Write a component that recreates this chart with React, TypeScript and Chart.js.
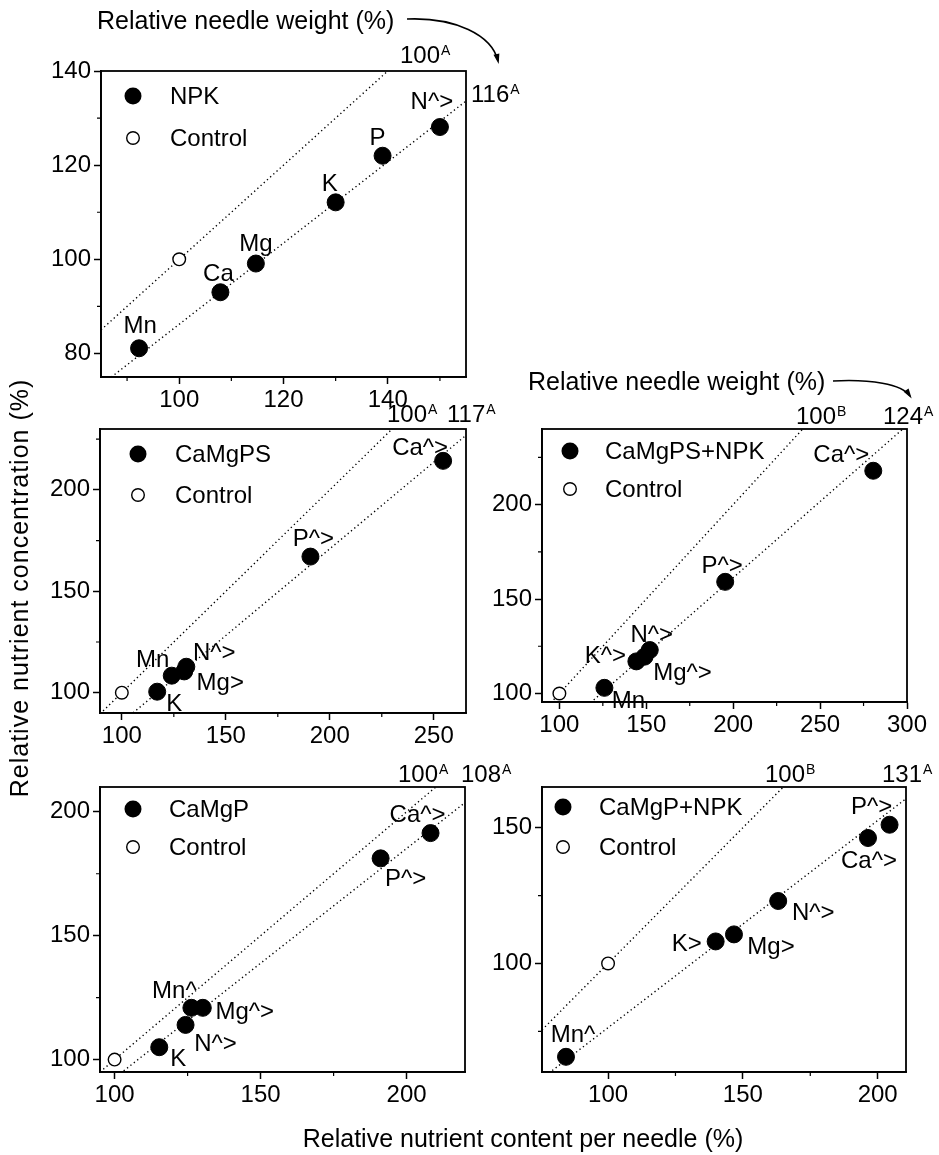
import React, { useEffect, useRef } from 'react';
import Chart from 'chart.js/auto';

const PAGE_W = 939;
const PAGE_H = 1155;
const FONT = '"Liberation Sans", Arial, Helvetica, sans-serif';

// ---------------- data ----------------
const controlX = [100];
const controlY = [100];

// NPK
const npkX = [92.3, 107.9, 114.7, 130, 139, 150];
const npkY = [81.1, 93, 99.1, 112.1, 122, 128.1];
const npkLabels = ['Mn', 'Ca', 'Mg', 'K', 'P', 'N^>'];
const npkWeights = [100, 116];
const npkWeightTags = ['A', 'A'];
const npkXTicks = [100, 120, 140];
const npkXMinor = [90, 110, 130, 150];
const npkYTicks = [80, 100, 120, 140];
const npkYMinor = [90, 110, 130];

// CaMgPS
const camgpsX = [117, 124, 130, 131, 190.7, 254.5];
const camgpsY = [100.5, 108.4, 110.5, 112.8, 167.1, 214.3];
const camgpsLabels = ['K', 'Mn', 'Mg>', 'N^>', 'P^>', 'Ca^>'];
const camgpsWeights = [100, 117];
const camgpsWeightTags = ['A', 'A'];
const camgpsXTicks = [100, 150, 200, 250];
const camgpsXMinor = [125, 175, 225];
const camgpsYTicks = [100, 150, 200];
const camgpsYMinor = [125, 175, 225];

// CaMgPS+NPK
const camgpsNpkX = [125.9, 144.3, 149, 152, 195.4, 280.6];
const camgpsNpkY = [103, 117, 119.5, 123, 159.1, 217.9];
const camgpsNpkLabels = ['Mn', 'K^>', 'Mg^>', 'N^>', 'P^>', 'Ca^>'];
const camgpsNpkWeights = [100, 124];
const camgpsNpkWeightTags = ['B', 'A'];
const camgpsNpkXTicks = [100, 150, 200, 250, 300];
const camgpsNpkXMinor = [125, 175, 225, 275];
const camgpsNpkYTicks = [100, 150, 200];
const camgpsNpkYMinor = [125, 175, 225];

// CaMgP
const camgpX = [115.3, 124.3, 126.3, 130.2, 191.1, 208.2];
const camgpY = [105, 114, 120.9, 120.9, 181.2, 191.4];
const camgpLabels = ['K', 'N^>', 'Mn^', 'Mg^>', 'P^>', 'Ca^>'];
const camgpWeights = [100, 108];
const camgpWeightTags = ['A', 'A'];
const camgpXTicks = [100, 150, 200];
const camgpXMinor = [125, 175];
const camgpYTicks = [100, 150, 200];
const camgpYMinor = [125, 175];

// CaMgP+NPK
const camgpNpkX = [84.4, 139.9, 146.7, 163.1, 196.4, 204.4];
const camgpNpkY = [65.6, 108.1, 110.7, 123, 146.2, 151.1];
const camgpNpkLabels = ['Mn^', 'K>', 'Mg>', 'N^>', 'Ca^>', 'P^>'];
const camgpNpkWeights = [100, 131];
const camgpNpkWeightTags = ['B', 'A'];
const camgpNpkXTicks = [100, 150, 200];
const camgpNpkXMinor = [125, 175];
const camgpNpkYTicks = [100, 150];
const camgpNpkYMinor = [75, 125];

const titleNeedleWeight = 'Relative needle weight (%)';
const titleY = 'Relative nutrient concentration (%)';
const titleX = 'Relative nutrient content per needle (%)';
const controlName = 'Control';

// ---------------- layout (positions / styles) ----------------
type Panel = {
  name: string;
  x: number[]; y: number[]; labels: string[];
  weights: number[]; tags: string[];
  xTicks: number[]; xMinor: number[]; yTicks: number[]; yMinor: number[];
  box: { l: number; t: number; r: number; b: number };
  xRange: [number, number]; yRange: [number, number];
  legend: { x: number; y: number; gap: number; tx: number };
  labelOffsets: [number, number][];
  weightLabelPos: [number, number][];
};

const panels: Panel[] = [
  {
    name: 'NPK', x: npkX, y: npkY, labels: npkLabels, weights: npkWeights, tags: npkWeightTags,
    xTicks: npkXTicks, xMinor: npkXMinor, yTicks: npkYTicks, yMinor: npkYMinor,
    box: { l: 101, t: 71, r: 466, b: 377 }, xRange: [85, 155], yRange: [75, 140],
    legend: { x: 133, y: 96, gap: 42, tx: 170 },
    labelOffsets: [[1, -24], [-2, -20], [0, -21], [-6, -20], [-5, -19], [-8, -27]],
    weightLabelPos: [[400, 63], [471, 102]],
  },
  {
    name: 'CaMgPS', x: camgpsX, y: camgpsY, labels: camgpsLabels, weights: camgpsWeights, tags: camgpsWeightTags,
    xTicks: camgpsXTicks, xMinor: camgpsXMinor, yTicks: camgpsYTicks, yMinor: camgpsYMinor,
    box: { l: 100, t: 429, r: 466, b: 713 }, xRange: [89.5, 265.5], yRange: [90, 230],
    legend: { x: 138, y: 454, gap: 41, tx: 175 },
    labelOffsets: [[17, 11], [-19, -17], [36, 10], [28, -15], [3, -19], [-23, -14]],
    weightLabelPos: [[387, 422], [447, 422]],
  },
  {
    name: 'CaMgPS+NPK', x: camgpsNpkX, y: camgpsNpkY, labels: camgpsNpkLabels, weights: camgpsNpkWeights, tags: camgpsNpkWeightTags,
    xTicks: camgpsNpkXTicks, xMinor: camgpsNpkXMinor, yTicks: camgpsNpkYTicks, yMinor: camgpsNpkYMinor,
    box: { l: 542, t: 429, r: 907, b: 702 }, xRange: [90, 300], yRange: [95.5, 240],
    legend: { x: 570, y: 451, gap: 38, tx: 605 },
    labelOffsets: [[24, 12], [-31, -7], [38, 15], [2, -17], [-3, -17], [-32, -17]],
    weightLabelPos: [[796, 424], [883, 424]],
  },
  {
    name: 'CaMgP', x: camgpX, y: camgpY, labels: camgpLabels, weights: camgpWeights, tags: camgpWeightTags,
    xTicks: camgpXTicks, xMinor: camgpXMinor, yTicks: camgpYTicks, yMinor: camgpYMinor,
    box: { l: 100, t: 787, r: 465, b: 1072 }, xRange: [95, 220], yRange: [95, 210],
    legend: { x: 133, y: 809, gap: 38, tx: 169 },
    labelOffsets: [[19, 10], [30, 17], [-17, -18], [42, 3], [25, 19], [-13, -20]],
    weightLabelPos: [[398, 782], [461, 782]],
  },
  {
    name: 'CaMgP+NPK', x: camgpNpkX, y: camgpNpkY, labels: camgpNpkLabels, weights: camgpNpkWeights, tags: camgpNpkWeightTags,
    xTicks: camgpNpkXTicks, xMinor: camgpNpkXMinor, yTicks: camgpNpkYTicks, yMinor: camgpNpkYMinor,
    box: { l: 542, t: 787, r: 906, b: 1072 }, xRange: [75.5, 210.5], yRange: [60, 165],
    legend: { x: 563, y: 807, gap: 40, tx: 599 },
    labelOffsets: [[7, -23], [-29, 1], [37, 11], [35, 10], [1, 21], [-18, -19]],
    weightLabelPos: [[765, 782], [882, 782]],
  },
];

const AXIS_W = 50;
const AXIS_H = 40;
const TEXT_SIZE = 24;

function capText(ctx: CanvasRenderingContext2D, text: string, x: number, cy: number, size: number, align: CanvasTextAlign = 'center') {
  ctx.font = `${size}px ${FONT}`;
  ctx.textAlign = align;
  ctx.textBaseline = 'alphabetic';
  ctx.fillText(text, x, cy + size * 0.358);
}

function supText(ctx: CanvasRenderingContext2D, main: string, sup: string, x: number, baseline: number) {
  ctx.font = `${TEXT_SIZE}px ${FONT}`;
  ctx.textAlign = 'left';
  ctx.textBaseline = 'alphabetic';
  ctx.fillText(main, x, baseline);
  const w = ctx.measureText(main).width;
  ctx.font = `14px ${FONT}`;
  ctx.fillText(sup, x + w + 1, baseline - 8);
}

function curvedArrow(ctx: CanvasRenderingContext2D, p0: number[], c1: number[], c2: number[], p1: number[]) {
  ctx.save();
  ctx.strokeStyle = '#000';
  ctx.fillStyle = '#000';
  ctx.lineWidth = 1.6;
  ctx.beginPath();
  ctx.moveTo(p0[0], p0[1]);
  ctx.bezierCurveTo(c1[0], c1[1], c2[0], c2[1], p1[0], p1[1]);
  ctx.stroke();
  const ang = Math.atan2(p1[1] - c2[1], p1[0] - c2[0]);
  const dx = Math.cos(ang), dy = Math.sin(ang);
  const tipX = p1[0] + dx * 3, tipY = p1[1] + dy * 3;
  const bx = p1[0] - dx * 7, by = p1[1] - dy * 7;
  ctx.beginPath();
  ctx.moveTo(tipX, tipY);
  ctx.lineTo(bx - dy * 3, by + dx * 3);
  ctx.lineTo(bx + dy * 3, by - dx * 3);
  ctx.closePath();
  ctx.fill();
  ctx.restore();
}

function drawPageText(ctx: CanvasRenderingContext2D) {
  ctx.save();
  ctx.fillStyle = '#000';
  ctx.font = `25px ${FONT}`;
  ctx.textAlign = 'left';
  ctx.textBaseline = 'alphabetic';
  ctx.fillText(titleNeedleWeight, 97, 29);
  ctx.fillText(titleNeedleWeight, 528, 390);
  curvedArrow(ctx, [407, 19], [455, 17], [492, 35], [498, 61]);
  curvedArrow(ctx, [833, 381], [870, 379], [902, 384], [910, 396]);
  ctx.textAlign = 'center';
  ctx.fillText(titleX, 523, 1147);
  ctx.save();
  ctx.translate(19, 588);
  ctx.rotate(-Math.PI / 2);
  (ctx as any).letterSpacing = '1px';
  ctx.font = `25px ${FONT}`;
  ctx.textAlign = 'center';
  ctx.fillText(titleY, 0, 25 * 0.358);
  ctx.restore();
  ctx.restore();
}

function makePlugin(p: Panel, drawPage: boolean) {
  return {
    id: 'panelDecor' + p.name.replace(/\W/g, ''),
    afterDraw(chart: any) {
      const ctx: CanvasRenderingContext2D = chart.ctx;
      const a = chart.chartArea;
      const xs = chart.scales.x;
      const ys = chart.scales.y;
      ctx.save();
      ctx.strokeStyle = '#000';
      ctx.fillStyle = '#000';
      ctx.lineWidth = 1.8;
      ctx.strokeRect(a.left, a.top, a.right - a.left, a.bottom - a.top);
      ctx.lineWidth = 1.2;
      ctx.beginPath();
      p.xMinor.forEach((v) => {
        const px = xs.getPixelForValue(v);
        ctx.moveTo(px, a.bottom);
        ctx.lineTo(px, a.bottom + 4);
      });
      p.yMinor.forEach((v) => {
        const py = ys.getPixelForValue(v);
        ctx.moveTo(a.left - 4, py);
        ctx.lineTo(a.left, py);
      });
      ctx.stroke();
      const lg = p.legend;
      ctx.beginPath();
      ctx.arc(lg.x, lg.y, 8.5, 0, Math.PI * 2);
      ctx.fill();
      ctx.beginPath();
      ctx.arc(lg.x, lg.y + lg.gap, 6.3, 0, Math.PI * 2);
      ctx.fillStyle = '#fff';
      ctx.fill();
      ctx.lineWidth = 1.4;
      ctx.stroke();
      ctx.fillStyle = '#000';
      capText(ctx, p.name, lg.tx, lg.y - 1, TEXT_SIZE, 'left');
      capText(ctx, controlName, lg.tx, lg.y + lg.gap - 1, TEXT_SIZE, 'left');
      p.labels.forEach((t, i) => {
        const px = xs.getPixelForValue(p.x[i]) + p.labelOffsets[i][0];
        const py = ys.getPixelForValue(p.y[i]) + p.labelOffsets[i][1];
        capText(ctx, t, px, py, TEXT_SIZE, 'center');
      });
      p.weights.forEach((w, i) => {
        const pos = p.weightLabelPos[i];
        supText(ctx, String(w), p.tags[i], pos[0], pos[1]);
      });
      ctx.restore();
      if (drawPage) drawPageText(ctx);
    },
  };
}

function buildConfig(p: Panel, drawPage: boolean): any {
  const [xmin, xmax] = p.xRange;
  const lineSets = p.weights.map((w) => ({
    data: [
      { x: xmin, y: (xmin * 100) / w },
      { x: xmax, y: (xmax * 100) / w },
    ],
    showLine: true,
    borderColor: '#000',
    borderWidth: 1.4,
    borderDash: [1.3, 3],
    pointRadius: 0,
    fill: false,
  }));
  const axisCommon = {
    type: 'linear',
    grid: { display: true, drawOnChartArea: false, drawTicks: true, tickLength: 7, tickWidth: 1.5, color: '#000', tickColor: '#000' },
    border: { display: true, color: '#000', width: 1.8 },
  };
  return {
    type: 'scatter',
    data: {
      datasets: [
        {
          data: p.x.map((v, i) => ({ x: v, y: p.y[i] })),
          pointRadius: 8.5,
          pointBackgroundColor: '#000',
          pointBorderColor: '#000',
          pointBorderWidth: 1,
          showLine: false,
        },
        {
          data: controlX.map((v, i) => ({ x: v, y: controlY[i] })),
          pointRadius: 6.3,
          pointBackgroundColor: '#fff',
          pointBorderColor: '#000',
          pointBorderWidth: 1.4,
          showLine: false,
        },
        ...lineSets,
      ],
    },
    options: {
      animation: false,
      responsive: false,
      devicePixelRatio: 1,
      events: [],
      layout: {
        padding: {
          left: p.box.l - AXIS_W,
          top: p.box.t,
          right: PAGE_W - p.box.r,
          bottom: PAGE_H - p.box.b - AXIS_H,
        },
      },
      plugins: { legend: { display: false }, tooltip: { enabled: false }, title: { display: false } },
      scales: {
        x: {
          ...axisCommon,
          min: p.xRange[0],
          max: p.xRange[1],
          afterBuildTicks: (s: any) => { s.ticks = p.xTicks.map((v) => ({ value: v })); },
          afterFit: (s: any) => { s.height = AXIS_H; },
          ticks: { color: '#000', font: { family: FONT, size: TEXT_SIZE }, padding: 2, autoSkip: false, maxRotation: 0, callback: (v: any) => String(v) },
        },
        y: {
          ...axisCommon,
          min: p.yRange[0],
          max: p.yRange[1],
          afterBuildTicks: (s: any) => { s.ticks = p.yTicks.map((v) => ({ value: v })); },
          afterFit: (s: any) => { s.width = AXIS_W; },
          ticks: { color: '#000', font: { family: FONT, size: TEXT_SIZE }, padding: 3, autoSkip: false, callback: (v: any) => String(v) },
        },
      },
    },
    plugins: [makePlugin(p, drawPage)],
  };
}

function PanelChart({ panel, drawPage }: { panel: Panel; drawPage: boolean }) {
  const ref = useRef<HTMLCanvasElement | null>(null);
  useEffect(() => {
    if (!ref.current) return;
    const chart = new Chart(ref.current, buildConfig(panel, drawPage));
    return () => chart.destroy();
  }, [panel, drawPage]);
  return (
    <canvas
      ref={ref}
      width={PAGE_W}
      height={PAGE_H}
      style={{ position: 'absolute', left: 0, top: 0, width: PAGE_W, height: PAGE_H }}
    />
  );
}

export default function App() {
  return (
    <div style={{ position: 'absolute', left: 0, top: 0, width: PAGE_W, height: PAGE_H, background: '#fff', overflow: 'hidden' }}>
      {panels.map((p, i) => (
        <PanelChart key={p.name} panel={p} drawPage={i === 0} />
      ))}
    </div>
  );
}
